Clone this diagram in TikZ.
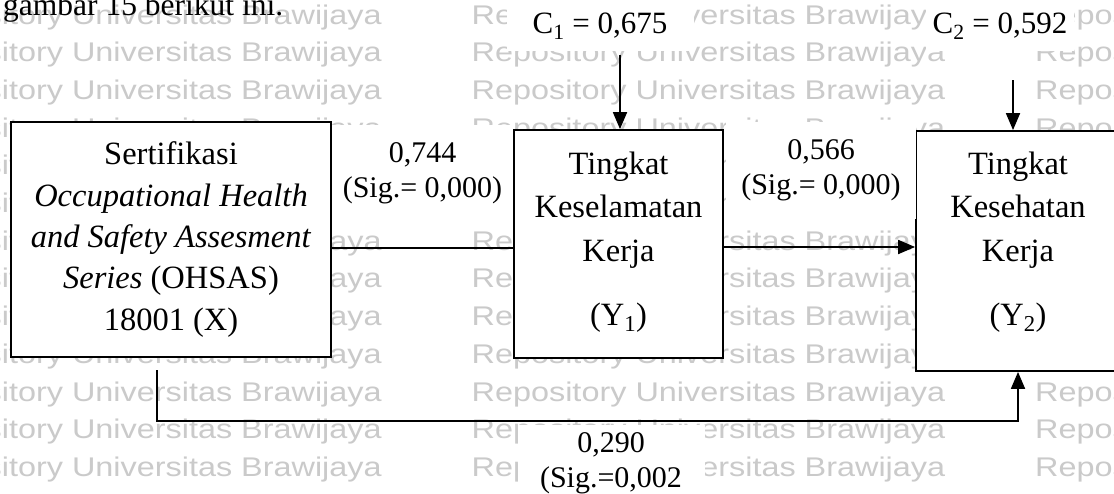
\documentclass[tikz,border=0pt]{standalone}
\usepackage{fontspec}
\setmainfont{Liberation Serif}
\newfontfamily\wmfont[FakeStretch=1.2]{Liberation Sans}
\usetikzlibrary{arrows.meta}
\definecolor{wmgray}{RGB}{202,202,202}
\newcommand{\wmtext}{Repository Universitas Brawijaya}
\tikzset{
  box/.style={draw=black, line width=1.8pt, fill=white, rectangle, inner sep=0pt},
  boxtext/.style={align=center, inner sep=0pt, font=\fontsize{32.5}{41.3}\selectfont},
  ytext/.style={align=center, inner sep=0pt, font=\fontsize{32.5}{43.5}\selectfont},
  lab/.style={align=center, inner sep=0pt, fill=white, font=\fontsize{30}{34.5}\selectfont},
  clab/.style={align=center, inner sep=0pt, fill=white, font=\fontsize{31}{34}\selectfont},
  conn/.style={line width=1.8pt},
  arr/.style={conn, -{Triangle[length=17pt,width=14pt]}},
  wm/.style={anchor=base west, inner sep=0pt, text=wmgray, font=\wmfont\fontsize{27}{27}\selectfont},
}
\begin{document}
\begin{tikzpicture}[x=1pt,y=-1pt]
\useasboundingbox (0,0) rectangle (1114,493);
\clip (0,0) rectangle (1114,493);
\fill[white] (0,0) rectangle (1114,493);
% watermark rows
\foreach \k in {0,...,12} {
  \node[wm] (wm\k) at (-92, {24+37.7*\k}) {\wmtext\hspace{90pt}\wmtext\hspace{90pt}\wmtext};
}
% page text above the figure
\node[anchor=base west, inner sep=0pt, font=\fontsize{31.5}{31.5}\selectfont] (intro) at (3,15) {gambar 15 berikut ini.};
% boxes
\node[box, minimum width=320pt, minimum height=235pt] (X) at (171,239.5) {};
\node[box, minimum width=209pt, minimum height=228pt] (Y1) at (618.5,244) {};
\node[box, minimum width=204pt, minimum height=240pt] (Y2) at (1018,251) {};
\node[boxtext] (Xt) at (171,239.5) {Sertifikasi\\\textit{Occupational Health}\\\textit{and Safety Assesment}\\\textit{Series} (OHSAS)\\18001 (X)};
\node[ytext] (Y1t) at (618.5,242) {Tingkat\\Keselamatan\\Kerja\\[20.5pt](Y\textsubscript{1})};
\node[ytext] (Y2t) at (1018,242) {Tingkat\\Kesehatan\\Kerja\\[20.5pt](Y\textsubscript{2})};
% labels
\node[lab, minimum width=181pt, minimum height=97pt] (L1) at (422.5,173.5) {0,744\\(Sig.= 0,000)};
\node[lab, minimum width=190pt, minimum height=97pt] (L2) at (821,170.5) {0,566\\(Sig.= 0,000)};
\node[lab, minimum width=187pt, minimum height=77pt] (L3) at (611,463.5) {0,290\\(Sig.=0,002};
\node[clab, minimum width=187pt, minimum height=50pt] (C1) at (600,26) {C\textsubscript{1} = 0,675};
\node[clab, minimum width=148pt, minimum height=50pt] (C2) at (1000,26) {C\textsubscript{2} = 0,592};
% connectors
\coordinate (xe) at (331,248);
\draw[conn] (xe) -- (xe -| Y1.west);
\coordinate (ye) at (723,247);
\draw[arr] (ye) -- (ye -| Y2.west);
\coordinate (c1s) at (620,55);
\draw[arr] (c1s) -- (c1s |- Y1.north);
\coordinate (c2s) at (1013,80);
\draw[arr] (c2s) -- (c2s |- Y2.north);
\coordinate (bs) at (157,370);
\coordinate (bc) at (157,421);
\draw[arr] (bs) -- (bc) -| (Y2.south);
\end{tikzpicture}
\end{document}
